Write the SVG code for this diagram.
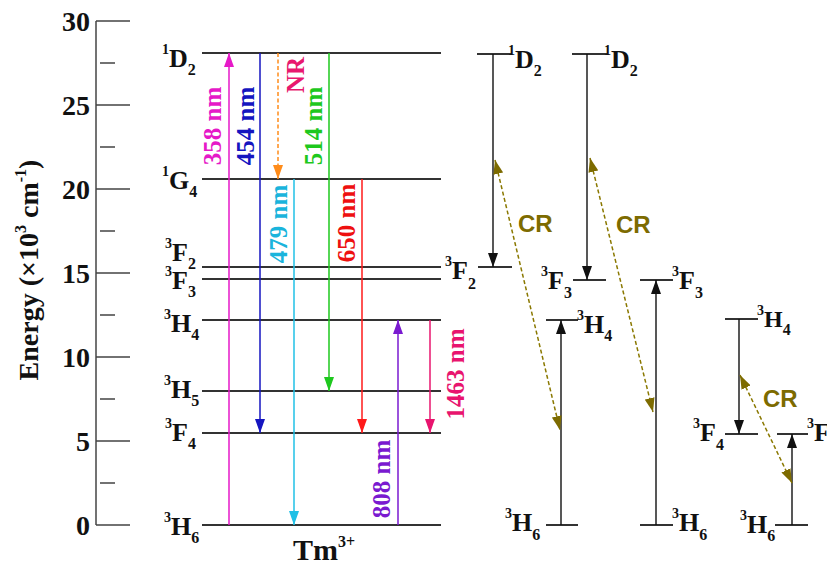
<svg xmlns="http://www.w3.org/2000/svg" width="827" height="564" viewBox="0 0 827 564">
  <style>
    .lv { stroke: #333; stroke-width: 2; fill: none; }
    .ax { stroke: #444; stroke-width: 1.5; fill: none; }
    .tl { font-family: "Liberation Serif", "Times New Roman", serif; font-weight: bold; font-size: 28px; fill: #111; text-anchor: end; }
    .lab { font-family: "Liberation Serif", "Times New Roman", serif; font-weight: bold; font-size: 26px; fill: #111; }
    .big { font-size: 30px; }
    .sm { font-size: 24px; }
    .sup { font-size: 14px; }
    .sub { font-size: 16px; }
    .nm { font-family: "Liberation Serif", "Times New Roman", serif; font-weight: bold; font-size: 25px; text-anchor: middle; }
    .cr { font-family: "Liberation Sans", Arial, sans-serif; font-weight: bold; font-size: 24px; fill: #7d6b00; }
    .tr { fill: none; stroke-width: 1.5; }
    .blk { stroke: #111; stroke-width: 1.4; fill: none; }
    .dash { stroke-dasharray: 4 2.5; }
  </style>
  <defs>
    <marker id="hBlk" viewBox="0 0 14 10" markerWidth="14" markerHeight="10" refX="14" refY="5" orient="auto-start-reverse" markerUnits="userSpaceOnUse"><path d="M0,0 L14,5 L0,10 z" fill="#111"/></marker>
    <marker id="hMag" viewBox="0 0 14 10" markerWidth="14" markerHeight="10" refX="14" refY="5" orient="auto-start-reverse" markerUnits="userSpaceOnUse"><path d="M0,0 L14,5 L0,10 z" fill="#e619c8"/></marker>
    <marker id="hBlu" viewBox="0 0 14 10" markerWidth="14" markerHeight="10" refX="14" refY="5" orient="auto-start-reverse" markerUnits="userSpaceOnUse"><path d="M0,0 L14,5 L0,10 z" fill="#1515c0"/></marker>
    <marker id="hOra" viewBox="0 0 14 10" markerWidth="14" markerHeight="10" refX="14" refY="5" orient="auto-start-reverse" markerUnits="userSpaceOnUse"><path d="M0,0 L14,5 L0,10 z" fill="#ff8c1a"/></marker>
    <marker id="hCya" viewBox="0 0 14 10" markerWidth="14" markerHeight="10" refX="14" refY="5" orient="auto-start-reverse" markerUnits="userSpaceOnUse"><path d="M0,0 L14,5 L0,10 z" fill="#20c0e6"/></marker>
    <marker id="hGrn" viewBox="0 0 14 10" markerWidth="14" markerHeight="10" refX="14" refY="5" orient="auto-start-reverse" markerUnits="userSpaceOnUse"><path d="M0,0 L14,5 L0,10 z" fill="#1ec81e"/></marker>
    <marker id="hRed" viewBox="0 0 14 10" markerWidth="14" markerHeight="10" refX="14" refY="5" orient="auto-start-reverse" markerUnits="userSpaceOnUse"><path d="M0,0 L14,5 L0,10 z" fill="#ff1a1a"/></marker>
    <marker id="hPur" viewBox="0 0 14 10" markerWidth="14" markerHeight="10" refX="14" refY="5" orient="auto-start-reverse" markerUnits="userSpaceOnUse"><path d="M0,0 L14,5 L0,10 z" fill="#7a1ad0"/></marker>
    <marker id="hPnk" viewBox="0 0 14 10" markerWidth="14" markerHeight="10" refX="14" refY="5" orient="auto-start-reverse" markerUnits="userSpaceOnUse"><path d="M0,0 L14,5 L0,10 z" fill="#e8146e"/></marker>
    <marker id="hOli" viewBox="0 0 14 10" markerWidth="14" markerHeight="10" refX="14" refY="5" orient="auto-start-reverse" markerUnits="userSpaceOnUse"><path d="M0,0 L14,5 L0,10 z" fill="#7d6b00"/></marker>
  </defs>

  <rect width="827" height="564" fill="#ffffff"/>

  <!-- energy axis -->
  <g id="axis">
    <line class="ax" x1="96" y1="21" x2="96" y2="525"/>
    <path class="ax" d="M96,21H130M96,105H130M96,189H130M96,273H130M96,357H130M96,441H130M96,525H130"/>
    <path class="ax" d="M100,63H115M100,147H115M100,231H115M100,315H115M100,399H115M100,483H115"/>
    <text class="tl" x="90" y="31">30</text>
    <text class="tl" x="90" y="115">25</text>
    <text class="tl" x="90" y="199">20</text>
    <text class="tl" x="90" y="283">15</text>
    <text class="tl" x="90" y="367">10</text>
    <text class="tl" x="90" y="451">5</text>
    <text class="tl" x="90" y="535">0</text>
    <text class="lab" style="font-size:28px" text-anchor="middle" transform="translate(38,270) rotate(-90)">Energy (×10<tspan font-size="16" dy="-12">3</tspan><tspan dy="12"> cm</tspan><tspan font-size="16" dy="-12">-1</tspan><tspan dy="12">)</tspan></text>
  </g>

  <!-- Tm3+ energy levels -->
  <g id="tm-levels">
    <path class="lv" d="M202,53H441M202,179H441M202,267H441M202,279H441M202,320H441M202,391H441M202,433H441M202,525H441"/>
    <text class="lab" x="162" y="67"><tspan class="sup" dy="-13">1</tspan><tspan dy="13">D</tspan><tspan class="sub" dy="8">2</tspan></text>
    <text class="lab" x="162" y="189"><tspan class="sup" dy="-13">1</tspan><tspan dy="13">G</tspan><tspan class="sub" dy="8">4</tspan></text>
    <text class="lab" x="165" y="261"><tspan class="sup" dy="-13">3</tspan><tspan dy="13">F</tspan><tspan class="sub" dy="8">2</tspan></text>
    <text class="lab" x="165" y="289"><tspan class="sup" dy="-13">3</tspan><tspan dy="13">F</tspan><tspan class="sub" dy="8">3</tspan></text>
    <text class="lab" x="164" y="332"><tspan class="sup" dy="-13">3</tspan><tspan dy="13">H</tspan><tspan class="sub" dy="8">4</tspan></text>
    <text class="lab" x="164" y="398"><tspan class="sup" dy="-13">3</tspan><tspan dy="13">H</tspan><tspan class="sub" dy="8">5</tspan></text>
    <text class="lab" x="165" y="441"><tspan class="sup" dy="-13">3</tspan><tspan dy="13">F</tspan><tspan class="sub" dy="8">4</tspan></text>
    <text class="lab" x="164" y="535"><tspan class="sup" dy="-13">3</tspan><tspan dy="13">H</tspan><tspan class="sub" dy="8">6</tspan></text>
    <text class="lab big" x="293" y="560">Tm<tspan class="sup" style="font-size:16px" dy="-13">3+</tspan></text>
  </g>

  <!-- cross-relaxation level schemes -->
  <g id="cr1-levels">
    <path class="lv" stroke-width="1.6" d="M477,54H512M478,267H512M546,320H578M546,525H578"/>
    <text class="lab" x="508" y="68"><tspan class="sup" dy="-13">1</tspan><tspan dy="13">D</tspan><tspan class="sub" dy="8">2</tspan></text>
    <text class="lab" x="445" y="279"><tspan class="sup" dy="-13">3</tspan><tspan dy="13">F</tspan><tspan class="sub" dy="10">2</tspan></text>
    <text class="lab" x="577" y="333"><tspan class="sup" dy="-13">3</tspan><tspan dy="13">H</tspan><tspan class="sub" dy="8">4</tspan></text>
    <text class="lab" x="505" y="531"><tspan class="sup" dy="-13">3</tspan><tspan dy="13">H</tspan><tspan class="sub" dy="9">6</tspan></text>
    <text class="cr" x="518" y="232">CR</text>
  </g>
  <g id="cr2-levels">
    <path class="lv" stroke-width="1.6" d="M572,54H607M573,280H606M640,280H673M640,525H673"/>
    <text class="lab" x="604" y="68"><tspan class="sup" dy="-13">1</tspan><tspan dy="13">D</tspan><tspan class="sub" dy="8">2</tspan></text>
    <text class="lab" x="541" y="289"><tspan class="sup" dy="-13">3</tspan><tspan dy="13">F</tspan><tspan class="sub" dy="9">3</tspan></text>
    <text class="lab" x="672" y="289"><tspan class="sup" dy="-13">3</tspan><tspan dy="13">F</tspan><tspan class="sub" dy="9">3</tspan></text>
    <text class="lab" x="672" y="531"><tspan class="sup" dy="-13">3</tspan><tspan dy="13">H</tspan><tspan class="sub" dy="9">6</tspan></text>
    <text class="cr" x="616" y="233">CR</text>
  </g>
  <g id="cr3-levels">
    <path class="lv" stroke-width="1.6" d="M725,319H758M725,434H758M777,434H808M775,525H808"/>
    <text class="lab sm" x="757" y="327"><tspan class="sup" dy="-12">3</tspan><tspan dy="12">H</tspan><tspan class="sub" dy="8">4</tspan></text>
    <text class="lab" x="693" y="441"><tspan class="sup" dy="-13">3</tspan><tspan dy="13">F</tspan><tspan class="sub" dy="9">4</tspan></text>
    <text class="lab" x="807" y="441"><tspan class="sup" dy="-13">3</tspan><tspan dy="13">F</tspan><tspan class="sub" dy="9">4</tspan></text>
    <text class="lab" x="740" y="533"><tspan class="sup" dy="-13">3</tspan><tspan dy="13">H</tspan><tspan class="sub" dy="8">6</tspan></text>
    <text class="cr" x="763" y="407">CR</text>
  </g>

  <!-- transitions -->
  <g id="connectors">
    <line class="tr" stroke="#e619c8" x1="229" y1="525" x2="229" y2="53" marker-end="url(#hMag)"/>
    <line class="tr" stroke="#1515c0" x1="260" y1="53" x2="260" y2="433" marker-end="url(#hBlu)"/>
    <line class="tr dash" stroke="#ff8c1a" x1="278" y1="53" x2="278" y2="179" marker-end="url(#hOra)"/>
    <line class="tr" stroke="#20c0e6" x1="294" y1="179" x2="294" y2="525" marker-end="url(#hCya)"/>
    <line class="tr" stroke="#1ec81e" x1="329" y1="53" x2="329" y2="391" marker-end="url(#hGrn)"/>
    <line class="tr" stroke="#ff1a1a" x1="362" y1="179" x2="362" y2="433" marker-end="url(#hRed)"/>
    <line class="tr" stroke="#7a1ad0" x1="398" y1="525" x2="398" y2="320" marker-end="url(#hPur)"/>
    <line class="tr" stroke="#e8146e" x1="430" y1="320" x2="430" y2="433" marker-end="url(#hPnk)"/>

    <line class="blk" x1="493" y1="54" x2="493" y2="267" marker-end="url(#hBlk)"/>
    <line class="blk" x1="561" y1="525" x2="561" y2="320" marker-end="url(#hBlk)"/>
    <line class="blk" x1="587" y1="54" x2="587" y2="280" marker-end="url(#hBlk)"/>
    <line class="blk" x1="656" y1="525" x2="656" y2="280" marker-end="url(#hBlk)"/>
    <line class="blk" x1="739" y1="319" x2="739" y2="434" marker-end="url(#hBlk)"/>
    <line class="blk" x1="792" y1="525" x2="792" y2="434" marker-end="url(#hBlk)"/>

    <line class="tr dash" stroke="#8a7800" x1="495" y1="160" x2="560" y2="430" marker-start="url(#hOli)" marker-end="url(#hOli)"/>
    <line class="tr dash" stroke="#8a7800" x1="590" y1="158" x2="653" y2="412" marker-start="url(#hOli)" marker-end="url(#hOli)"/>
    <line class="tr dash" stroke="#8a7800" x1="740" y1="375" x2="792" y2="483" marker-start="url(#hOli)" marker-end="url(#hOli)"/>
  </g>

  <!-- transition labels -->
  <g id="transition-labels">
    <text class="nm" fill="#e619c8" x="213" y="134" transform="rotate(-90 213 126)">358 nm</text>
    <text class="nm" fill="#1515c0" x="246" y="134" transform="rotate(-90 246 126)">454 nm</text>
    <text class="nm" fill="#e8186e" x="296" y="83" transform="rotate(-90 296 75)">NR</text>
    <text class="nm" fill="#1ab4dc" x="279" y="232" transform="rotate(-90 279 224)">479 nm</text>
    <text class="nm" fill="#1ec81e" x="314" y="134" transform="rotate(-90 314 126)">514 nm</text>
    <text class="nm" fill="#ee1010" x="347" y="231" transform="rotate(-90 347 223)">650 nm</text>
    <text class="nm" fill="#7a1ad0" x="382" y="487" transform="rotate(-90 382 479)">808 nm</text>
    <text class="nm" fill="#e8146e" x="456" y="382" transform="rotate(-90 456 374)">1463 nm</text>
  </g>
</svg>
